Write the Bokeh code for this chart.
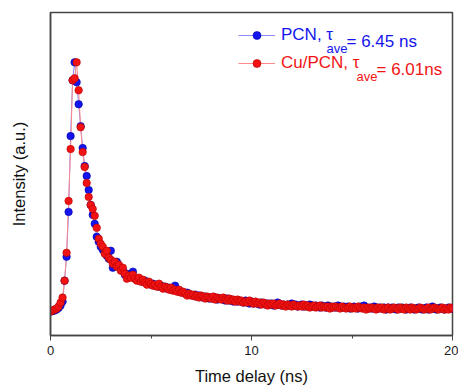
from bokeh.plotting import figure
from bokeh.models import Range1d, FixedTicker, Legend, LegendItem, Label
from bokeh.embed import file_html
from bokeh.resources import INLINE

# Time channels (ns), 0.1 ns spacing
time_ns = [round(0.1 * i, 1) for i in range(201)]

# PCN decay (a.u.)
pcn = [
    24, 24.5, 25, 26, 27.5, 30, 34, 55, 79, 124,
    200, 256, 274, 254, 232, 210, 188, 170, 160, 146,
    131, 121, 112, 99, 94, 89, 86, 83, 80, 77,
    85, 68, 72, 74, 69, 67, 65, 61, 62, 60,
    59, 64, 57, 56, 57, 55, 54, 55, 52, 53,
    51, 52, 50, 51, 49, 50, 48, 49, 47, 48,
    46, 46, 50, 45, 44, 44, 43, 42, 43, 41,
    41, 40, 41, 39, 40, 39, 38, 39, 38, 37,
    38, 37, 38, 36, 37, 37, 36, 35, 37, 35,
    36, 34, 35, 34, 35, 34, 33, 35, 33, 32,
    34, 32, 33, 32, 31, 33, 32, 31, 32, 31,
    32, 30, 31, 33, 31, 30, 31, 30, 31, 30,
    32, 30, 31, 29, 30, 31, 29, 30, 29, 31,
    30, 29, 30, 29, 28, 30, 29, 28, 30, 29,
    28, 29, 28, 30, 29, 28, 29, 28, 29, 27,
    28, 29, 28, 27, 29, 28, 30, 28, 27, 28,
    27, 29, 28, 27, 28, 27, 28, 26, 28, 27,
    28, 27, 26, 28, 27, 28, 27, 26, 27, 28,
    27, 26, 27, 28, 27, 26, 27, 28, 26, 27,
    29, 27, 26, 27, 28, 27, 26, 27, 28, 27,
    27,
]

# Cu/PCN decay (a.u.)
cu_pcn = [
    24, 25, 26, 27, 29, 33, 38, 55, 83, 135,
    187, 256, 258, 274, 246, 209, 184, 169, 153, 139,
    131, 127, 120, 108, 97, 92, 89, 82, 85, 78,
    76, 72, 74, 69, 71, 65, 68, 62, 57, 60,
    58, 61, 57, 55, 58, 54, 56, 53, 51, 54,
    52, 50, 51, 49, 52, 49, 47, 49, 48, 46,
    48, 45, 46, 44, 46, 43, 44, 42, 40, 42,
    40, 41, 39, 40, 38, 40, 39, 37, 39, 38,
    37, 39, 36, 38, 37, 36, 38, 36, 35, 37,
    35, 36, 34, 36, 34, 35, 33, 34, 33, 35,
    33, 32, 34, 32, 33, 31, 33, 32, 30, 32,
    31, 32, 30, 31, 32, 30, 31, 29, 31, 30,
    29, 31, 30, 29, 30, 29, 31, 29, 30, 28,
    29, 30, 28, 29, 30, 28, 29, 28, 29, 27,
    29, 28, 29, 28, 27, 29, 28, 27, 28, 29,
    27, 28, 27, 29, 28, 27, 28, 26, 28, 27,
    28, 27, 26, 28, 27, 28, 26, 27, 28, 26,
    27, 28, 27, 26, 28, 27, 26, 28, 27, 26,
    28, 27, 26, 27, 28, 27, 26, 27, 28, 26,
    27, 28, 27, 26, 27, 28, 26, 27, 26, 28,
    27,
]

x_ticks = [0, 10, 20]
x_minor = [5, 15]

FONT = "Liberation Sans"
BLUE = "#1414ee"
RED = "#f21414"

p = figure(width=458, height=387, output_backend="svg", toolbar_location=None,
           x_range=Range1d(0, 20), y_range=Range1d(0, 324),
           min_border_left=50, min_border_right=6, min_border_top=12, min_border_bottom=51)
p.xgrid.visible = False
p.ygrid.visible = False
p.outline_line_color = "#444444"
p.outline_line_width = 1.5
p.background_fill_color = "white"
p.border_fill_color = "white"

bl = p.line(time_ns, pcn, line_color="#8a8aff", line_width=1)
rl = p.line(time_ns, cu_pcn, line_color="#ff8a8a", line_width=1)
bs = p.scatter(time_ns, pcn, size=7.5, fill_color=BLUE, line_color="#0000a8", line_width=0.6)
rs = p.scatter(time_ns, cu_pcn, size=7.5, fill_color=RED, line_color="#b80000", line_width=0.6)

xa = p.xaxis[0]
xa.ticker = FixedTicker(ticks=x_ticks, minor_ticks=x_minor)
xa.axis_line_color = "#444444"
xa.axis_line_width = 1.5
xa.major_tick_line_color = "#444444"
xa.minor_tick_line_color = "#444444"
xa.major_tick_out = 5
xa.major_tick_in = 0
xa.minor_tick_out = 3
xa.minor_tick_in = 0
xa.major_label_text_font = FONT
xa.major_label_text_font_size = "13px"
xa.major_label_text_color = "#1a1a1a"
xa.major_label_standoff = 5
xa.axis_label = "Time delay (ns)"
xa.axis_label_text_font = FONT
xa.axis_label_text_font_size = "16.5px"
xa.axis_label_text_font_style = "normal"
xa.axis_label_text_color = "#111111"
xa.axis_label_standoff = 9

ya = p.yaxis[0]
ya.ticker = FixedTicker(ticks=[])
ya.axis_line_color = "#444444"
ya.axis_line_width = 1.5
ya.major_tick_out = 0
ya.major_tick_in = 0
ya.minor_tick_out = 0
ya.minor_tick_in = 0
ya.major_label_text_font_size = "0px"
ya.axis_label = "Intensity (a.u.)"
ya.axis_label_text_font = FONT
ya.axis_label_text_font_size = "16.5px"
ya.axis_label_text_font_style = "normal"
ya.axis_label_text_color = "#111111"
ya.axis_label_standoff = 23


def make_legend(label, renderers, color, loc):
    leg = Legend(items=[LegendItem(label=label, renderers=renderers)], location=loc,
                 border_line_color=None, background_fill_alpha=0, padding=0, margin=0,
                 spacing=0, glyph_width=37, glyph_height=20, label_height=20,
                 label_standoff=6, label_text_font=FONT, label_text_font_size="17px",
                 label_text_color=color)
    p.add_layout(leg)


make_legend("PCN, τ", [bl, bs], BLUE, (188, 290))
make_legend("Cu/PCN, τ", [rl, rs], RED, (188, 262.5))

for txt, x, y, size, color in [
    ("ave", 276, 287, "13px", BLUE),
    ("= 6.45 ns", 296, 294.3, "17px", BLUE),
    ("ave", 306, 259.5, "13px", RED),
    ("= 6.01ns", 326, 266, "17px", RED),
]:
    p.add_layout(Label(x=x, y=y, x_units="screen", y_units="screen", text=txt,
                       text_font=FONT, text_font_size=size, text_color=color,
                       text_baseline="alphabetic", text_align="left"))

open("out.html", "w").write(file_html(p, INLINE))
